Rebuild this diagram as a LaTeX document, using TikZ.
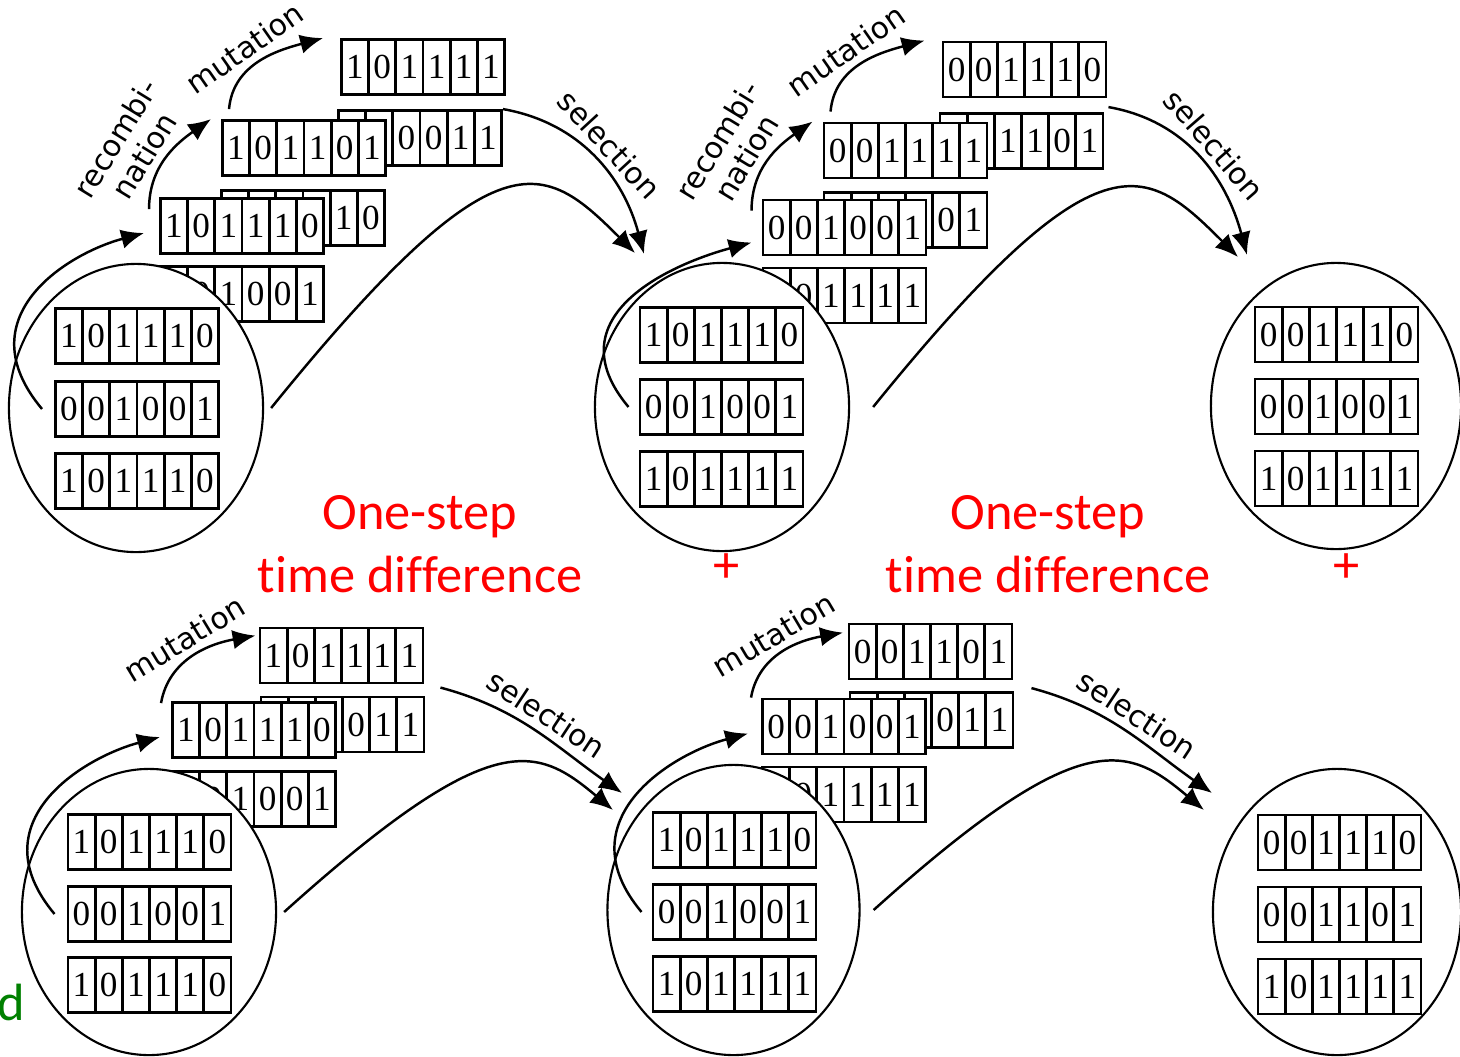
\documentclass[tikz,border=0pt]{standalone}
\usepackage{fontspec}
\setmainfont{Liberation Serif}
\newfontfamily\opfont{DejaVu Sans}
\newfontfamily\notefont[Ligatures=NoCommon]{Carlito}
\usetikzlibrary{shapes.geometric,arrows.meta}

% six cells of one chromosome
\newcommand{\bits}[6]{\makebox[0.2717cm]{#1}\makebox[0.2717cm]{#2}\makebox[0.2717cm]{#3}\makebox[0.2717cm]{#4}\makebox[0.2717cm]{#5}\makebox[0.2717cm]{#6}}

\begin{document}
\begin{tikzpicture}[x=0.01cm,y=0.01cm]
        \tikzstyle{bitstr} = [rectangle, draw=black, fill=white, line width=.8pt, inner sep=0pt, minimum width=1.63cm, minimum height=.55cm, font=\fontsize{10}{10}\selectfont,
            path picture={\foreach \k in {1,...,5} \draw[line width=.8pt] ([xshift=\k*0.2717cm]path picture bounding box.south west) -- ([xshift=\k*0.2717cm]path picture bounding box.north west);}]
        \tikzstyle{pop} = [ellipse, draw=black, fill=white, line width=.6pt, inner sep=0pt]
        \tikzstyle{line} = [-{Latex[length=6.5pt,width=5.5pt]},draw=black,line width=.7pt]
        \tikzstyle{op} = [font=\opfont\fontsize{8.5}{9.5}\selectfont, align=center, inner sep=2pt]
        \tikzstyle{note} = [font=\notefont\fontsize{14.9}{18}\selectfont, text=red, align=center]
        \useasboundingbox (0,0) rectangle (1460,1056);
        % top row, first generation
        \node[bitstr] (s1) at (242,762) {\bits001001};
        \node[bitstr] (r1b) at (303,838) {\bits001010};
        \node[bitstr] (r1a) at (242,830) {\bits101110};
        \node[bitstr] (c1b) at (420,918) {\bits110011};
        \node[bitstr] (c1a) at (304,908) {\bits101101};
        \node[bitstr] (m1) at (423,989) {\bits101111};
        \node[pop, minimum width=2.54cm, minimum height=2.88cm] (e1) at (136,648) {};
        \node[bitstr] (p1a) at (137,720) {\bits101110};
        \node[bitstr] (p1b) at (137,647) {\bits001001};
        \node[bitstr] (p1c) at (137,575) {\bits101110};
        % top row, second generation
        \node[bitstr] (s2) at (844.5,760.5) {\bits101111};
        \node[bitstr] (r2b) at (905.5,836) {\bits101101};
        \node[bitstr] (r2a) at (844.5,828.5) {\bits001001};
        \node[bitstr] (c2b) at (1021.5,915) {\bits101101};
        \node[bitstr] (c2a) at (905.5,905.5) {\bits001111};
        \node[bitstr] (m2) at (1024.5,986.5) {\bits001110};
        \node[pop, minimum width=2.54cm, minimum height=2.88cm] (e2) at (722,649) {};
        \node[bitstr] (p2a) at (721.5,721) {\bits101110};
        \node[bitstr] (p2b) at (721.5,649) {\bits001001};
        \node[bitstr] (p2c) at (721.5,577) {\bits101111};
        % top row, third generation
        \node[pop, minimum width=2.5cm, minimum height=2.86cm] (e3) at (1336,650) {};
        \node[bitstr] (p3a) at (1336.5,721.5) {\bits001110};
        \node[bitstr] (p3b) at (1336.5,649.5) {\bits001001};
        \node[bitstr] (p3c) at (1336.5,577.5) {\bits101111};
        % bottom row, first generation
        \node[bitstr] (s4) at (254,257) {\bits001001};
        \node[bitstr] (r4b) at (342.5,331.5) {\bits101011};
        \node[bitstr] (r4a) at (254,326) {\bits101110};
        \node[bitstr] (m4) at (341.5,400.5) {\bits101111};
        \node[pop, minimum width=2.54cm, minimum height=2.86cm] (e4) at (149,144) {};
        \node[bitstr] (p4a) at (149.5,214) {\bits101110};
        \node[bitstr] (p4b) at (149.5,142) {\bits001001};
        \node[bitstr] (p4c) at (149.5,71) {\bits101110};
        % bottom row, second generation
        \node[bitstr] (s5) at (844,261.5) {\bits101111};
        \node[bitstr] (r5b) at (931.5,336) {\bits101011};
        \node[bitstr] (r5a) at (844,329.5) {\bits001001};
        \node[bitstr] (m5) at (930.5,404.5) {\bits001101};
        \node[pop, minimum width=2.52cm, minimum height=2.9cm] (e5) at (733.5,146) {};
        \node[bitstr] (p5a) at (734.5,216) {\bits101110};
        \node[bitstr] (p5b) at (734.5,144) {\bits001001};
        \node[bitstr] (p5c) at (734.5,72) {\bits101111};
        % bottom row, third generation
        \node[pop, minimum width=2.48cm, minimum height=2.86cm] (e6) at (1337,144) {};
        \node[bitstr] (p6a) at (1339.5,213.5) {\bits001110};
        \node[bitstr] (p6b) at (1339.5,141.5) {\bits001101};
        \node[bitstr] (p6c) at (1339.5,69.5) {\bits101111};
        % red notes
        \node[note] (gap1) at (420,512) {One-step\\time difference};
        \node[note] (gap2) at (1048,512) {One-step\\time difference};
        \node[note] (plus1) at (727,488) {+};
        \node[note] (plus2) at (1347,488) {+};
        \node[font=\notefont\fontsize{14.9}{18}\selectfont, text=green!50!black, anchor=base west, inner sep=0pt] (cut) at (-3,36) {d};
        % arrow ends next to the following population
        \coordinate (sel1) at (644,802);
        \coordinate (keep1) at (635,803);
        \coordinate (sel2) at (1247,801);
        \coordinate (keep2) at (1238,799);
        \coordinate (sel3) at (622,263);
        \coordinate (keep3) at (613,246);
        \coordinate (sel4) at (1212,263);
        \coordinate (keep4) at (1204,246);
        % top row arrows
        \draw[line] ([xshift=-0.12cm]p1b.west) to[out=130,in=195,out distance=1.2cm,in distance=.8cm] ([xshift=-0.15cm,yshift=-0.07cm]r1a.west);
        \draw[line] ([xshift=-0.1cm,yshift=-0.12cm]r1a.north west) to[out=90,in=215] node[op,sloped,above,pos=.4] {recombi-\\nation} ([xshift=-0.1cm]c1a.north west);
        \draw[line] ([xshift=0.08cm,yshift=0.1cm]c1a.north west) to[out=85,in=195] node[op,sloped,above,pos=.45] {mutation} ([xshift=-0.17cm]m1.north west);
        \draw[line] (c1b.north east) to[out=-10,in=105] node[op,sloped,above] {selection} (sel1);
        \draw[line] ([xshift=0.07cm]e1.east) to[out=51,in=135,out distance=3.6cm,in distance=1.3cm] (keep1);
        \draw[line] ([xshift=-0.1cm]p2b.west) to[out=130,in=195,out distance=1.2cm,in distance=.8cm] ([xshift=-0.1cm,yshift=-0.15cm]r2a.west);
        \draw[line] ([xshift=-0.1cm,yshift=-0.12cm]r2a.north west) to[out=90,in=215] node[op,sloped,above,pos=.4] {recombi-\\nation} ([xshift=-0.1cm]c2a.north west);
        \draw[line] ([xshift=0.08cm,yshift=0.1cm]c2a.north west) to[out=85,in=195] node[op,sloped,above,pos=.45] {mutation} ([xshift=-0.17cm]m2.north west);
        \draw[line] ([shift={(0.04cm,0.05cm)}]c2b.north east) to[out=-10,in=105] node[op,sloped,above] {selection} (sel2);
        \draw[line] ([xshift=0.23cm]e2.east) to[out=51,in=135,out distance=3.6cm,in distance=1.3cm] (keep2);
        % bottom row arrows
        \draw[line] ([xshift=-0.12cm]p4b.west) to[out=130,in=195,out distance=1.2cm,in distance=.8cm] ([xshift=-0.11cm,yshift=-0.07cm]r4a.west);
        \draw[line] ([xshift=-0.1cm,yshift=-0.02cm]r4a.north west) to[out=80,in=190] node[op,sloped,above] {mutation} ([shift={(-0.03cm,-0.09cm)}]m4.north west);
        \draw[line] ([shift={(0.15cm,0.08cm)}]r4b.north east) to[out=-15,in=145] node[op,sloped,above] {selection} (sel3);
        \draw[line] ([xshift=0.07cm]e4.east) to[out=42,in=140,out distance=2.8cm,in distance=1cm] (keep3);
        \draw[line] ([xshift=-0.1cm]p5b.west) to[out=130,in=195,out distance=1.2cm,in distance=.8cm] ([xshift=-0.13cm,yshift=-0.07cm]r5a.west);
        \draw[line] ([xshift=-0.1cm]r5a.north west) to[out=80,in=190] node[op,sloped,above] {mutation} ([shift={(-0.045cm,-0.1cm)}]m5.north west);
        \draw[line] ([shift={(0.17cm,0.03cm)}]r5b.north east) to[out=-15,in=145] node[op,sloped,above] {selection} (sel4);
        \draw[line] ([xshift=0.13cm]e5.east) to[out=42,in=140,out distance=2.8cm,in distance=1cm] (keep4);
\end{tikzpicture}
\end{document}
